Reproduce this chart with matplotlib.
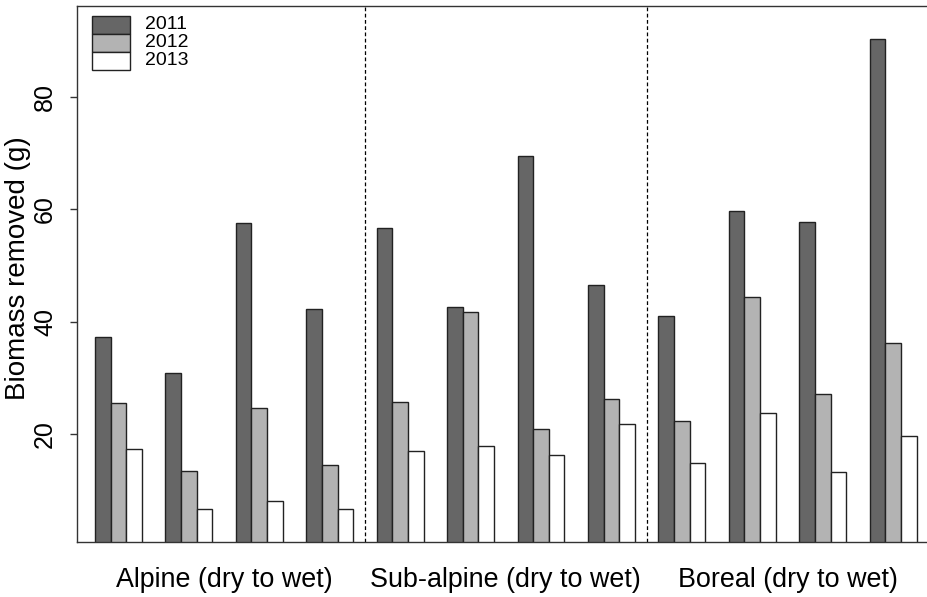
import numpy as np
import matplotlib
matplotlib.use('Agg')
import matplotlib.pyplot as plt
from matplotlib.patches import Rectangle

plt.rcParams['font.family'] = ['Liberation Sans', 'DejaVu Sans']

# biomass removed per site, sites ordered dry to wet inside each zone
years = ['2011', '2012', '2013']
zones = ['Alpine (dry to wet)', 'Sub-alpine (dry to wet)', 'Boreal (dry to wet)']
y2011 = [37.2, 30.8, 57.6, 42.3, 56.6, 42.6, 69.5, 46.5, 41.0, 59.7, 57.7, 90.3]
y2012 = [25.5, 13.5, 24.6, 14.5, 25.7, 41.7, 20.9, 26.3, 22.3, 44.4, 27.1, 36.2]
y2013 = [17.3, 6.7, 8.1, 6.6, 16.9, 17.9, 16.3, 21.7, 14.8, 23.8, 13.2, 19.7]
yticks = [20, 40, 60, 80]

cols = ['#666666', '#b3b3b3', 'white']
width = 1.0
space = 1.5          # gap between sites, in bar widths
period = 3 * width + space
n_sites = len(y2011)
sites_per_zone = 4

W, H = 928, 597
fig = plt.figure(figsize=(W / 100, H / 100), dpi=100)
ax = fig.add_axes([0.0826, 0.0926, 0.9249, 0.8973])

left = np.arange(n_sites) * period
for k, (vals, c) in enumerate(zip([y2011, y2012, y2013], cols)):
    ax.bar(left + k * width, vals, width=width, align='edge', color=c,
           edgecolor='#222222', linewidth=1.0, label=years[k])

# dashed separators between zones
for z in range(1, len(zones)):
    last = left[z * sites_per_zone - 1] + 3 * width
    first = left[z * sites_per_zone]
    ax.axvline((last + first) / 2, color='black', linestyle=(0, (3, 2)),
               linewidth=0.9)

# zone names under each block of sites
for z, name in enumerate(zones):
    a = left[z * sites_per_zone]
    b = left[(z + 1) * sites_per_zone - 1] + 3 * width
    ax.text((a + b) / 2, -0.0715, name, transform=ax.get_xaxis_transform(),
            ha='center', va='center', fontsize=19.4)

span = left[-1] + 3 * width
ax.set_xlim(-1.17, span + 1.17)
ax.set_ylim(0.83, 96.2)

ax.set_xticks([])
ax.set_yticks(yticks)
ax.set_yticklabels([str(t) for t in yticks], rotation=90, va='center',
                   fontsize=18)
ax.tick_params(axis='y', length=5, width=1, pad=9, color='#333333')
for s in ax.spines.values():
    s.set_color('#333333')
    s.set_linewidth(1.0)

fig.text(18 / W, 1 - 268 / H, 'Biomass removed (g)', rotation=90,
         ha='center', va='center', fontsize=20)

# legend: stacked fill boxes touching each other, labels to the right
box_x, box_w, box_h, top = 91.7, 38.3, 18.1, 15.7
for k, (yr, c) in enumerate(zip(years, cols)):
    y0 = top + k * box_h
    fig.patches.append(Rectangle((box_x / W, 1 - (y0 + box_h) / H),
                                 box_w / W, box_h / H, facecolor=c,
                                 edgecolor='#222222', linewidth=1.0,
                                 transform=fig.transFigure, figure=fig))
    fig.text(145 / W, 1 - (y0 + box_h / 2) / H, yr, ha='left', va='center',
             fontsize=14)

fig.savefig('out.png', dpi=100)
